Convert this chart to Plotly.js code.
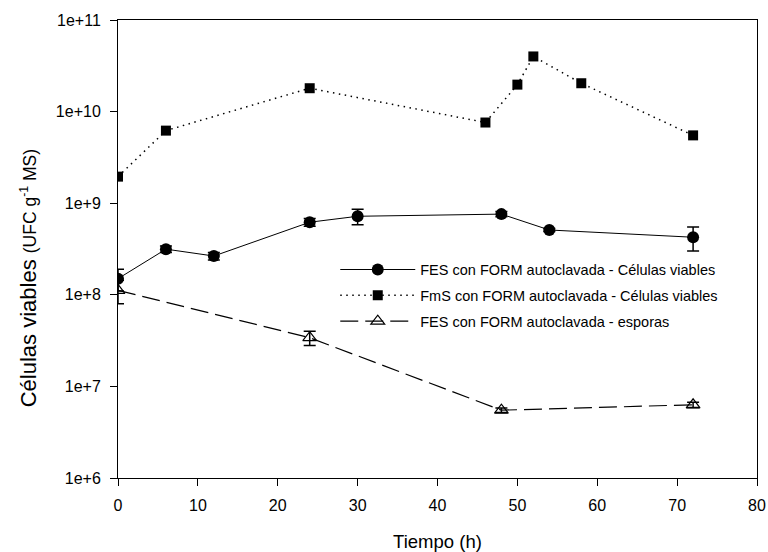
<!DOCTYPE html>
<html>
<head>
<meta charset="utf-8">
<script src="https://cdn.plot.ly/plotly-3.0.1.min.js"></script>
<style>html,body{margin:0;padding:0;background:#fff;}#chart{width:768px;height:552px;}</style>
</head>
<body>
<div id="chart"></div>
<script>
// Data
const fesTime = [0, 6, 12, 24, 30, 48, 54, 72];
const fesCells = [1.5e8, 3.15e8, 2.65e8, 6.2e8, 7.2e8, 7.6e8, 5.1e8, 4.25e8];
const fesCellsErr = [0.4e8, 0.25e8, 0.25e8, 0.6e8, 1.4e8, 0.5e8, 0.2e8, 1.25e8];

const fmsTime = [0, 6, 24, 46, 50, 52, 58, 72];
const fmsCells = [1.95e9, 6.2e9, 1.8e10, 7.6e9, 1.97e10, 4.0e10, 2.04e10, 5.5e9];

const sporeTime = [0, 24, 48, 72];
const spores = [1.12e8, 3.4e7, 5.5e6, 6.3e6];
const sporesErr = [0.32e8, 0.6e7, 0.3e6, 0.4e6];

const xTicks = [0, 10, 20, 30, 40, 50, 60, 70, 80];
const yTickVals = [1e6, 1e7, 1e8, 1e9, 1e10, 1e11];
const yTickText = ['1e+6', '1e+7', '1e+8', '1e+9', '1e+10', '1e+11'];

const names = [
  'FES con FORM autoclavada - Células viables',
  'FmS con FORM autoclavada - Células viables',
  'FES con FORM autoclavada - esporas'
];
const xTitle = 'Tiempo (h)';
const yTitle = 'Células viables <span style="font-size:17.5px">(UFC g<sup>-1</sup> MS)</span>';

const traces = [
  {
    x: fesTime, y: fesCells, name: names[0], legendgroup: 'a',
    type: 'scatter', mode: 'lines+markers',
    line: {color: '#000', width: 1, dash: 'solid'},
    marker: {symbol: 'circle', size: 12, color: '#000'},
    error_y: {type: 'data', array: fesCellsErr, visible: true, color: '#000', thickness: 1.5, width: 6}
  },
  {
    x: fmsTime, y: fmsCells, name: names[1], legendgroup: 'b',
    type: 'scatter', mode: 'lines+markers',
    line: {color: '#000', width: 1.5, dash: '1.5px,4.5px'},
    marker: {symbol: 'square', size: 10, color: '#000'}
  },
  {
    x: sporeTime, y: spores, name: names[2], legendgroup: 'c',
    type: 'scatter', mode: 'lines+markers',
    line: {color: '#000', width: 1.2, dash: '18px,7px'},
    marker: {symbol: 'triangle-up-open', size: 12, color: '#000', line: {width: 1.2, color: '#000'}},
    error_y: {type: 'data', array: sporesErr, visible: true, color: '#000', thickness: 1.5, width: 6}
  }
];

const layout = {
  width: 768, height: 552,
  margin: {l: 118, r: 11, t: 20, b: 74},
  paper_bgcolor: '#fff', plot_bgcolor: '#fff',
  font: {family: 'Liberation Sans, Arial, sans-serif', color: '#000', size: 14},
  showlegend: true,
  legend: {
    x: 0.34, y: 0.49, xanchor: 'left', yanchor: 'top',
    bgcolor: 'rgba(0,0,0,0)', borderwidth: 0,
    font: {size: 14.5, color: '#000'},
    itemwidth: 75, tracegroupgap: 4, traceorder: 'grouped',
    itemclick: false
  },
  xaxis: {
    range: [0, 80], tickvals: xTicks, ticktext: xTicks.map(String),
    showgrid: false, zeroline: false,
    showline: true, linecolor: '#000', linewidth: 1, mirror: true,
    ticks: 'outside', ticklen: 7, tickcolor: '#000', tickwidth: 1,
    ticklabelstandoff: 6,
    tickfont: {size: 16},
    title: {text: xTitle, font: {size: 18.5}, standoff: 21}
  },
  yaxis: {
    type: 'log', range: [6, 11],
    tickvals: yTickVals, ticktext: yTickText,
    showgrid: false, zeroline: false,
    showline: true, linecolor: '#000', linewidth: 1, mirror: true,
    ticks: 'outside', ticklen: 7, tickcolor: '#000', tickwidth: 1,
    ticklabelstandoff: 6,
    tickfont: {size: 16}
  },
  annotations: [{
    text: yTitle, xref: 'paper', yref: 'paper',
    x: -0.14, y: 0.435, xanchor: 'center', yanchor: 'middle',
    textangle: -90, showarrow: false,
    font: {size: 22, color: '#000'}
  }]
};

Plotly.newPlot('chart', traces, layout, {staticPlot: true, displayModeBar: false});
</script>
</body>
</html>
